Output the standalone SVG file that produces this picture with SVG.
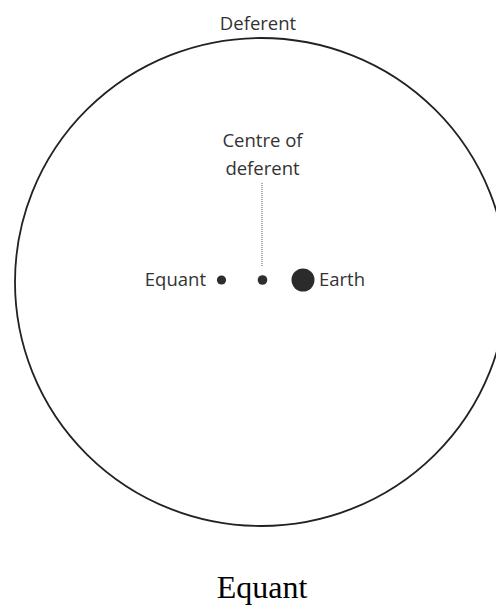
<svg xmlns="http://www.w3.org/2000/svg" width="496" height="608" viewBox="0 0 496 608">
  <style>
    .lbl { font-family: "Open Sans", "Noto Sans", "DejaVu Sans", sans-serif; font-size: 18.5px; fill: #333333; }
    .cap { font-family: "Liberation Serif", "Times New Roman", serif; font-size: 32px; fill: #000000; }
    .dot { fill: #2e2e2e; }
  </style>
  <rect x="0" y="0" width="496" height="608" fill="#ffffff"/>
  <g id="deferent">
    <ellipse cx="261" cy="282" rx="246" ry="244" fill="none" stroke="#222222" stroke-width="1.8"/>
    <text class="lbl" x="258" y="30" text-anchor="middle">Deferent</text>
  </g>
  <g id="connectors">
    <line x1="262" y1="183" x2="262" y2="267" stroke="#777777" stroke-width="1.2" stroke-dasharray="1 1"/>
  </g>
  <g id="centre">
    <text class="lbl" x="262.5" y="147" text-anchor="middle">Centre of</text>
    <text class="lbl" x="262.5" y="175" text-anchor="middle">deferent</text>
    <circle class="dot" cx="262.5" cy="280" r="4.8"/>
  </g>
  <g id="equant">
    <text class="lbl" x="206" y="286" text-anchor="end">Equant</text>
    <circle class="dot" cx="221.5" cy="280" r="4.6"/>
  </g>
  <g id="earth">
    <circle cx="303" cy="280" r="11.5" fill="#2b2b2b"/>
    <text class="lbl" x="319" y="286">Earth</text>
  </g>
  <g id="caption">
    <text class="cap" x="262" y="598" text-anchor="middle">Equant</text>
  </g>
</svg>
